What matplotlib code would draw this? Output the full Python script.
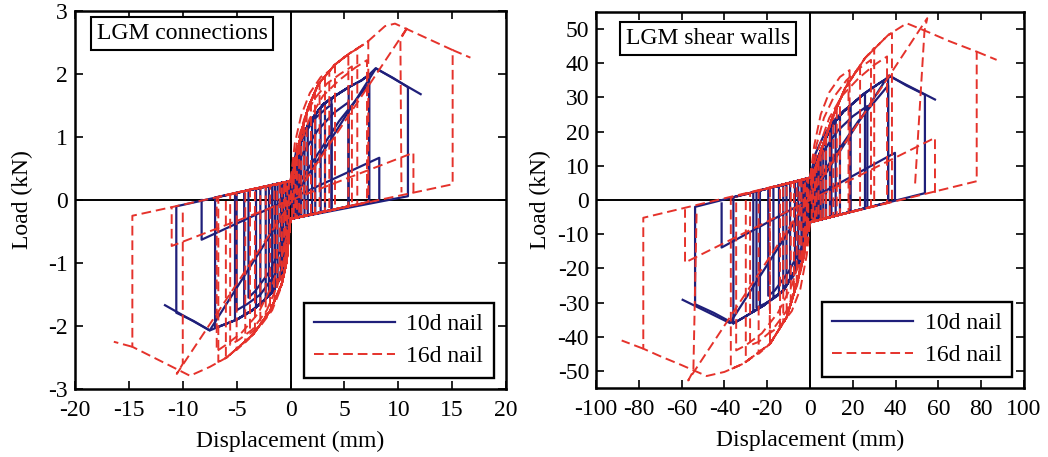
import matplotlib
matplotlib.use("Agg")
import matplotlib.pyplot as plt
from matplotlib.lines import Line2D

plt.rcParams['font.family'] = ['Liberation Serif', 'DejaVu Serif']

BLUE = '#1f1f7a'
RED = '#e5322b'

# ---------------- LEFT PANEL: LGM connections (kN vs mm) ----------------
# 10d nail backbone (positive / negative)
L10_env_pos_x = [0, 0.2, 0.5, 0.9, 1.35, 2.1, 3.05, 4.2, 5.4, 6.6, 7.3, 7.9, 9.5, 10.9, 12.1]
L10_env_pos_y = [0, 0.35, 0.65, 0.9, 1.1, 1.31, 1.52, 1.66, 1.79, 1.9, 1.99, 2.09, 1.94, 1.79, 1.68]
L10_env_neg_x = [0, -0.2, -0.5, -0.82, -1.6, -2.5, -3.45, -5.0, -6.5, -7.5, -9.0, -10.6, -11.65]
L10_env_neg_y = [0, -0.45, -0.85, -1.18, -1.44, -1.6, -1.74, -1.9, -2.0, -2.07, -1.92, -1.79, -1.67]
# 10d nail cycles: peak displacement, peak load, load after unloading
L10_pos_disp = [0.15, 0.3, 0.45, 0.6, 0.8, 1.0, 1.3, 1.6, 2.0, 2.3, 2.8, 3.2, 3.8, 5.4, 7.3, 10.9]
L10_pos_load = [0.4, 0.48, 0.6, 0.72, 0.85, 0.95, 1.08, 1.18, 1.29, 1.36, 1.47, 1.54, 1.62, 1.79, 1.99, 1.79]
L10_pos_res = [-0.29, -0.29, -0.28, -0.28, -0.27, -0.26, -0.25, -0.24, -0.23, -0.21, -0.2, -0.18, -0.16, -0.1, -0.03, 0.06]
L10_neg_disp = [-0.15, -0.3, -0.45, -0.7, -0.9, -1.2, -1.45, -1.7, -2.0, -2.3, -2.8, -3.2, -4.3, -5.15, -7.0, -10.6]
L10_neg_load = [-0.4, -0.6, -0.8, -1.05, -1.22, -1.32, -1.4, -1.46, -1.52, -1.57, -1.65, -1.7, -1.83, -1.9, -2.03, -1.79]
L10_neg_res = [0.29, 0.29, 0.28, 0.27, 0.27, 0.26, 0.25, 0.24, 0.23, 0.21, 0.2, 0.18, 0.14, 0.11, 0.04, -0.1]
L10_slack = [0.3, -0.3]
L10_diag_x = [-11.65, -7.5, 7.93, 12.08]
L10_diag_y = [-1.67, -2.07, 2.09, 1.68]
L10_box_x = [8.24, 8.24, -8.25, -8.25]
L10_box_y = [0.0, 0.67, -0.63, 0.0]
# trailing-cycle reload curves (each ends with its unloading drop)
L10_arc_x = [[0, 0.5, 1.3, 2.3, 3.3, 3.82, 3.82],
             [0, 1.0, 2.5, 4.0, 5.37, 5.37],
             [0.9, 4.5, 7.3, 7.3],
             [0, -0.6, -1.5, -2.8, -4.0, -5.0, -5.0],
             [0, -0.8, -2.0, -3.3, -3.9, -3.9]]
L10_arc_y = [[0.3, 0.75, 1.05, 1.3, 1.45, 1.52, -0.16],
             [0.3, 0.7, 1.1, 1.38, 1.55, -0.1],
             [0.3, 1.25, 1.85, -0.03],
             [-0.3, -0.85, -1.2, -1.5, -1.65, -1.75, 0.11],
             [-0.3, -0.75, -1.15, -1.45, -1.55, 0.15]]

# 16d nail
L16_env_pos_x = [0, 0.15, 0.5, 1.04, 1.65, 2.58, 4.13, 5.5, 7.07, 8.77, 9.7, 12.0, 15.05]
L16_env_pos_y = [0, 0.35, 0.62, 1.1, 1.47, 1.84, 2.15, 2.33, 2.5, 2.76, 2.8, 2.62, 2.38]
L16_env_neg_x = [0, -0.15, -0.35, -0.82, -1.9, -3.45, -5.92, -7.5, -9.33, -12.0, -14.68]
L16_env_neg_y = [0, -0.55, -0.97, -1.34, -1.76, -2.13, -2.5, -2.65, -2.79, -2.56, -2.33]
L16_pos_disp = [0.15, 0.3, 0.45, 0.6, 0.8, 1.0, 1.25, 1.5, 1.9, 2.27, 2.7, 3.2, 4.13, 5.37, 6.2, 7.22, 15.05]
L16_pos_load = [0.4, 0.5, 0.6, 0.72, 0.9, 1.08, 1.25, 1.4, 1.58, 1.72, 1.87, 1.97, 2.15, 2.32, 2.4, 2.52, 2.38]
L16_pos_res = [-0.29, -0.29, -0.28, -0.28, -0.27, -0.26, -0.25, -0.24, -0.23, -0.22, -0.2, -0.18, -0.15, -0.1, -0.07, -0.03, 0.25]
L16_neg_disp = [-0.15, -0.3, -0.45, -0.6, -0.8, -1.0, -1.25, -1.5, -1.9, -2.3, -2.8, -3.3, -4.2, -5.0, -6.0, -6.7, -14.68]
L16_neg_load = [-0.55, -0.9, -1.05, -1.18, -1.33, -1.41, -1.52, -1.62, -1.76, -1.87, -1.98, -2.1, -2.26, -2.38, -2.5, -2.57, -2.33]
L16_neg_res = [0.29, 0.29, 0.28, 0.28, 0.27, 0.26, 0.25, 0.24, 0.23, 0.21, 0.2, 0.18, 0.15, 0.12, 0.08, 0.05, -0.25]
L16_slack = [0.3, -0.3]
L16_diag_x = [-10.0, -10.0, -10.56, 10.93, 10.2, 10.3]
L16_diag_y = [-0.2, -2.6, -2.76, 2.76, 2.55, 0.12]
L16_tail_x = [[15.05, 16.7], [-14.68, -16.4]]
L16_tail_y = [[2.38, 2.26], [-2.33, -2.25]]
L16_box_x = [11.41, 11.41, -11.03, -11.03]
L16_box_y = [0.12, 0.75, -0.73, -0.1]
L16_arc_x = [[0, 0.6, 1.3, 2.2, 3.4, 4.6, 5.7, 5.7],
             [0, 0.9, 1.8, 3.0, 4.5, 6.0, 7.1, 7.1],
             [0, 0.4, 1.0, 1.8, 2.8, 3.6, 3.6],
             [0, -0.5, -1.2, -2.2, -3.5, -4.8, -5.6, -5.6],
             [0, -0.8, -1.7, -3.0, -4.5, -6.0, -6.85, -6.85],
             [0, -0.3, -0.9, -1.7, -2.7, -3.76, -3.76]]
L16_arc_y = [[0.3, 0.9, 1.3, 1.6, 1.85, 2.0, 2.12, -0.09],
             [0.3, 0.9, 1.3, 1.65, 1.9, 2.1, 2.22, -0.04],
             [0.3, 0.9, 1.35, 1.7, 1.95, 2.05, -0.17],
             [-0.3, -0.9, -1.35, -1.75, -2.05, -2.22, -2.3, 0.09],
             [-0.3, -0.9, -1.35, -1.8, -2.1, -2.3, -2.4, 0.05],
             [-0.3, -0.9, -1.4, -1.75, -1.98, -2.12, 0.16]]

# ---------------- RIGHT PANEL: LGM shear walls ----------------
R10_env_pos_x = [0, 1.0, 3.0, 6.2, 9.3, 15.6, 25.7, 32.0, 37.7, 45.0, 53.7]
R10_env_pos_y = [0, 7.0, 11.0, 16.2, 21.1, 25.9, 31.3, 34.0, 36.2, 33.5, 30.8]
R10_env_neg_x = [0, -1.0, -3.0, -7.0, -12.5, -21.8, -30.0, -35.8, -45.0, -53.7]
R10_env_neg_y = [0, -7.0, -13.0, -20.7, -26.5, -30.9, -34.0, -36.1, -33.0, -30.5]
R10_pos_disp = [0.8, 1.5, 2.3, 3.0, 4.0, 5.0, 6.2, 7.5, 9.3, 10.0, 12.0, 14.0, 18.7, 25.7, 36.5, 53.7]
R10_pos_load = [7.2, 8.2, 9.8, 11.0, 12.8, 14.4, 16.2, 18.3, 21.1, 21.6, 23.3, 24.8, 27.5, 31.3, 35.8, 30.8]
R10_pos_res = [-6.4, -6.3, -6.1, -6.0, -5.9, -5.7, -5.5, -5.3, -5.0, -4.9, -4.6, -4.3, -3.5, -2.4, -0.7, 2.0]
R10_neg_disp = [-0.8, -1.5, -2.3, -3.0, -4.0, -5.5, -7.0, -9.3, -11.0, -12.5, -14.5, -17.1, -23.4, -26.5, -35.8, -53.7]
R10_neg_load = [-7.0, -8.5, -11.0, -13.0, -15.0, -17.8, -20.7, -23.2, -25.0, -26.5, -27.5, -28.8, -31.5, -32.7, -36.1, -30.5]
R10_neg_res = [6.4, 6.3, 6.1, 6.0, 5.9, 5.6, 5.4, 5.0, 4.8, 4.5, 4.2, 3.8, 2.8, 2.3, 0.8, -2.0]
R10_slack = [6.5, -6.5]
R10_diag_x = [-59.5, -37.4, 36.6, 58.4]
R10_diag_y = [-29.2, -36.0, 36.4, 29.4]
R10_box_x = [39.7, 39.7, -41.3, -41.3]
R10_box_y = [0.0, 13.8, -13.9, -1.0]
R10_arc_x = [[0, 2.5, 6.5, 11.5, 16.5, 19.0, 19.0],
             [0, 5.0, 12.5, 20.0, 26.8, 26.8],
             [4.5, 22.5, 36.5, 36.5],
             [0, -3.0, -7.5, -14.0, -20.0, -25.0, -25.0],
             [0, -4.0, -10.0, -16.5, -19.5, -19.5]]
R10_arc_y = [[6.5, 13.5, 19.0, 23.5, 26.5, 27.5, -3.5],
             [6.5, 13.0, 20.0, 24.5, 27.5, -2.3],
             [6.5, 23.0, 33.5, -0.7],
             [-6.5, -15.5, -22.0, -27.5, -30.0, -31.5, 2.5],
             [-6.5, -14.0, -21.0, -26.5, -28.0, 3.4]]

R16_env_pos_x = [0, 1.5, 3.0, 5.5, 10.1, 16.4, 25.7, 36.6, 45.2, 55.0, 65.0, 77.9]
R16_env_pos_y = [0, 8.0, 10.0, 15.0, 23.5, 32.7, 41.5, 48.3, 51.7, 49.2, 46.5, 43.4]
R16_env_neg_x = [0, -1.5, -3.1, -6.2, -10.9, -18.7, -31.2, -40.0, -48.3, -60.0, -70.0, -77.9]
R16_env_neg_y = [0, -8.0, -16.8, -24.6, -34.3, -42.1, -47.9, -50.3, -51.5, -48.3, -45.7, -43.5]
R16_pos_disp = [0.8, 1.5, 2.3, 3.0, 4.0, 5.0, 6.2, 7.5, 9.3, 10.9, 12.5, 14.0, 18.0, 23.4, 30.0, 38.3, 77.9]
R16_pos_load = [7.2, 8.0, 9.0, 10.0, 12.0, 14.0, 16.2, 18.5, 22.0, 25.0, 27.5, 29.5, 35.0, 39.5, 44.5, 48.8, 43.4]
R16_pos_res = [-6.4, -6.3, -6.1, -6.0, -5.9, -5.7, -5.5, -5.3, -5.0, -4.8, -4.5, -4.3, -3.7, -2.8, -1.8, -0.5, 5.5]
R16_neg_disp = [-0.8, -1.5, -2.3, -3.0, -4.0, -5.0, -6.2, -7.5, -9.0, -10.9, -12.5, -14.0, -18.7, -24.0, -30.0, -37.0, -77.9]
R16_neg_load = [-7.2, -8.0, -12.5, -16.3, -19.0, -21.5, -24.6, -27.3, -30.4, -34.3, -35.9, -37.4, -42.1, -45.0, -47.4, -49.5, -43.5]
R16_neg_res = [6.4, 6.3, 6.1, 6.0, 5.9, 5.7, 5.5, 5.3, 5.1, 4.8, 4.5, 4.3, 3.5, 2.7, 1.8, 0.7, -5.2]
R16_slack = [6.5, -6.5]
R16_diag_x = [-53.0, -54.5, -56.9, 54.8, 53.5, 49.0]
R16_diag_y = [-4.0, -50.0, -52.8, 53.2, 49.5, 3.6]
R16_tail_x = [[77.9, 87.2], [-77.9, -88.0]]
R16_tail_y = [[43.4, 41.0], [-43.5, -41.1]]
R16_box_x = [58.4, 58.4, -58.4, -58.4]
R16_box_y = [2.1, 18.2, -18.3, -2.7]
R16_arc_x = [[0, 3.0, 6.5, 11.0, 17.0, 23.0, 28.5, 28.5],
             [0, 4.5, 9.0, 15.0, 22.5, 30.0, 36.0, 36.0],
             [0, 2.0, 5.0, 9.0, 14.0, 18.5, 18.5],
             [0, -2.5, -6.0, -11.0, -17.5, -24.0, -28.0, -28.0],
             [0, -4.0, -8.5, -15.0, -22.5, -30.0, -34.5, -34.5],
             [0, -1.5, -4.5, -8.5, -13.5, -18.8, -18.8]]
R16_arc_y = [[6.5, 16.0, 24.0, 30.0, 35.0, 38.5, 41.0, -2.0],
             [6.5, 16.0, 24.0, 30.5, 35.5, 39.5, 42.0, -0.8],
             [6.5, 16.0, 25.0, 31.5, 36.0, 38.0, -3.6],
             [-6.5, -16.0, -25.0, -32.5, -38.0, -41.5, -42.5, 2.1],
             [-6.5, -16.0, -25.0, -33.0, -39.0, -42.5, -44.0, 1.0],
             [-6.5, -16.0, -26.0, -32.5, -36.5, -39.0, 3.5]]


def hysteresis(env_px, env_py, env_nx, env_ny, pd, pf, pr, nd, nf, nr, slack):
    """Join the read cycle values into one continuous load path."""
    top, bot = slack
    xs, ys = [0.0], [0.0]
    for i in range(len(pd)):
        y_start = ys[-1]
        for ex, ey in zip(env_px, env_py):
            if 0 < ex < pd[i] and ey > y_start:
                xs.append(ex); ys.append(ey)
        xs += [pd[i], pd[i], 0.0]
        ys += [pf[i], pr[i], bot]
        for ex, ey in zip(env_nx, env_ny):
            if nd[i] < ex < 0 and ey < bot:
                xs.append(ex); ys.append(ey)
        xs += [nd[i], nd[i], 0.0]
        ys += [nf[i], nr[i], top]
    return xs, ys


fig = plt.figure(figsize=(10.48, 4.57), dpi=100)
axL = fig.add_axes([0.0716, 0.1488, 0.4112, 0.8271])
axR = fig.add_axes([0.5687, 0.1510, 0.4084, 0.8227])

red_kw = dict(color=RED, lw=1.4, linestyle=(0, (5, 2.5)))
blue_kw = dict(color=BLUE, lw=1.6, linestyle='-')

# blue (10d) first, red (16d) drawn over it
series = [
    (axL, (L10_env_pos_x, L10_env_pos_y, L10_env_neg_x, L10_env_neg_y,
           L10_pos_disp, L10_pos_load, L10_pos_res,
           L10_neg_disp, L10_neg_load, L10_neg_res, L10_slack),
     [(L10_diag_x, L10_diag_y), (L10_box_x, L10_box_y)]
     + list(zip(L10_arc_x, L10_arc_y)), blue_kw),
    (axL, (L16_env_pos_x, L16_env_pos_y, L16_env_neg_x, L16_env_neg_y,
           L16_pos_disp, L16_pos_load, L16_pos_res,
           L16_neg_disp, L16_neg_load, L16_neg_res, L16_slack),
     [(L16_diag_x, L16_diag_y), (L16_box_x, L16_box_y)]
     + list(zip(L16_tail_x, L16_tail_y)) + list(zip(L16_arc_x, L16_arc_y)), red_kw),
    (axR, (R10_env_pos_x, R10_env_pos_y, R10_env_neg_x, R10_env_neg_y,
           R10_pos_disp, R10_pos_load, R10_pos_res,
           R10_neg_disp, R10_neg_load, R10_neg_res, R10_slack),
     [(R10_diag_x, R10_diag_y), (R10_box_x, R10_box_y)]
     + list(zip(R10_arc_x, R10_arc_y)), blue_kw),
    (axR, (R16_env_pos_x, R16_env_pos_y, R16_env_neg_x, R16_env_neg_y,
           R16_pos_disp, R16_pos_load, R16_pos_res,
           R16_neg_disp, R16_neg_load, R16_neg_res, R16_slack),
     [(R16_diag_x, R16_diag_y), (R16_box_x, R16_box_y)]
     + list(zip(R16_tail_x, R16_tail_y)) + list(zip(R16_arc_x, R16_arc_y)), red_kw),
]
for ax, args, extras, kw in series:
    x, y = hysteresis(*args)
    ax.plot(x, y, **kw)
    for ex, ey in extras:
        ax.plot(ex, ey, **kw)

L_xticks = [-20, -15, -10, -5, 0, 5, 10, 15, 20]
L_yticks = [-3, -2, -1, 0, 1, 2, 3]
R_xticks = [-100, -80, -60, -40, -20, 0, 20, 40, 60, 80, 100]
R_yticks = [-50, -40, -30, -20, -10, 0, 10, 20, 30, 40, 50]

FS = 17
panels = [
    (axL, (-20, 20), (-3, 3), L_xticks, L_yticks, 'LGM connections', (0.05, 0.968), 11),
    (axR, (-100, 100), (-55, 55), R_xticks, R_yticks, 'LGM shear walls', (0.07, 0.958), 5),
]
for ax, xl, yl, xt, yt, title, tpos, ylpad in panels:
    ax.set_xlim(*xl)
    ax.set_ylim(*yl)
    ax.set_xticks(xt)
    ax.set_yticks(yt)
    ax.set_xticklabels([str(v) for v in xt])
    ax.set_yticklabels([str(v) for v in yt])
    ax.axhline(0, color='black', lw=1.4, zorder=1)
    ax.axvline(0, color='black', lw=1.4, zorder=1)
    ax.tick_params(direction='in', top=True, right=True, length=6, width=1.2,
                   labelsize=FS)
    ax.tick_params(axis='x', pad=8)
    ax.tick_params(axis='y', pad=5)
    for s in ax.spines.values():
        s.set_linewidth(1.8)
    ax.set_xlabel('Displacement (mm)', fontsize=FS, labelpad=7)
    ax.set_ylabel('Load (kN)', fontsize=FS, labelpad=ylpad)
    ax.text(tpos[0], tpos[1], title, transform=ax.transAxes, fontsize=FS,
            ha='left', va='top',
            bbox=dict(boxstyle='square,pad=0.25', fc='white', ec='black', lw=1.5),
            zorder=5)
    handles = [Line2D([], [], **blue_kw), Line2D([], [], **red_kw)]
    leg = ax.legend(handles, ['10d nail', '16d nail'], loc='lower right',
                    bbox_to_anchor=(0.972, 0.03), borderaxespad=0, fontsize=FS,
                    handlelength=3.4, frameon=True, fancybox=False,
                    edgecolor='black', framealpha=1, borderpad=0.45,
                    labelspacing=0.45, handletextpad=0.5)
    leg.get_frame().set_linewidth(1.7)
    leg.set_zorder(6)

fig.savefig('out.png', dpi=100)
